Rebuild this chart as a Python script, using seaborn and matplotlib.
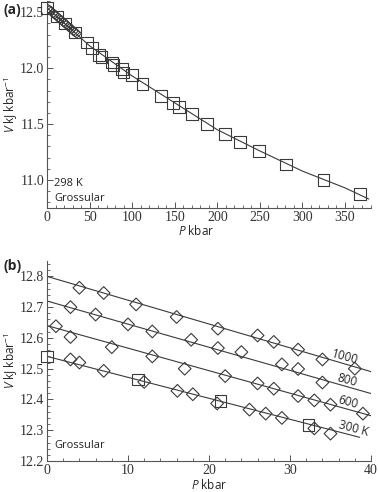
import matplotlib
matplotlib.use("Agg")
import matplotlib.pyplot as plt
import seaborn as sns
from matplotlib.ticker import MultipleLocator

# (a) 298 K compression data
sq_a_P = [0, 12, 21, 33, 47, 53, 61, 64, 76, 78, 88, 90, 100, 112, 134, 148, 155,
          170, 188, 209, 227, 249, 281, 325, 368]
sq_a_V = [12.54, 12.46, 12.40, 12.32, 12.23, 12.18, 12.12, 12.10, 12.05, 12.03, 11.99,
          11.96, 11.94, 11.86, 11.75, 11.69, 11.65, 11.59, 11.50, 11.41, 11.34, 11.26,
          11.14, 11.00, 10.875]
dm_a_P = [1, 3, 5, 7, 9, 11, 13, 15, 17, 19, 21, 23, 25, 27, 29, 31, 33, 35]
dm_a_V = [12.53, 12.52, 12.51, 12.49, 12.48, 12.47, 12.45, 12.44, 12.43, 12.41, 12.40,
          12.39, 12.37, 12.36, 12.35, 12.33, 12.32, 12.31]
fit_a_P = [0, 25, 50, 100, 150, 200, 250, 300, 350, 378]
fit_a_V = [12.54, 12.37, 12.20, 11.93, 11.69, 11.45, 11.26, 11.08, 10.93, 10.83]

# (b) high-T data, diamonds per isotherm
p1000 = [4, 7, 11, 16, 21.1, 26, 28, 31, 34, 38]
v1000 = [12.763, 12.746, 12.709, 12.668, 12.630, 12.608, 12.587, 12.562, 12.530, 12.500]
p800 = [2.9, 6, 10, 13, 17.8, 21.1, 24, 29, 31, 34]
v800 = [12.700, 12.676, 12.644, 12.621, 12.594, 12.567, 12.554, 12.514, 12.499, 12.455]
p600 = [1.1, 2.9, 8, 13, 17, 22, 26, 28, 31, 33, 35, 39]
v600 = [12.638, 12.603, 12.570, 12.540, 12.500, 12.476, 12.452, 12.435, 12.411,
        12.397, 12.383, 12.354]
p300 = [2.9, 4, 7, 12, 16.1, 18, 21, 25, 27, 29, 33, 35]
v300 = [12.530, 12.520, 12.493, 12.457, 12.428, 12.417, 12.387, 12.367, 12.354,
        12.340, 12.306, 12.289]
sq_b_P = [0, 11.2, 21.4, 32.3]
sq_b_V = [12.540, 12.465, 12.395, 12.318]

# model isotherms (end points)
iso_labels = ["1000", "800", "600", "300 K"]
iso_P = [[0, 40.7], [0, 40.7], [0, 40.7], [0, 38.6]]
iso_V = [[12.80, 12.485], [12.72, 12.414], [12.64, 12.342], [12.54, 12.277]]
lab_P = [36.8, 37.0, 37.2, 37.8]
lab_V = [12.536, 12.461, 12.392, 12.305]

sns.set_style("ticks")
plt.rcParams["font.family"] = ["Open Sans", "DejaVu Sans"]
plt.rcParams["mathtext.fontset"] = "custom"
plt.rcParams["mathtext.rm"] = "Open Sans"
plt.rcParams["mathtext.it"] = "Open Sans:italic"
plt.rcParams["xtick.direction"] = "in"
plt.rcParams["ytick.direction"] = "in"

ink = "#3a3a3a"
fig = plt.figure(figsize=(3.78, 4.92), dpi=100)
ax1 = fig.add_axes([47 / 378, 1 - 208 / 492, 323.5 / 378, 207 / 492])
ax2 = fig.add_axes([47 / 378, 1 - 461 / 492, 324 / 378, 200 / 492])

# panel a
sns.lineplot(x=fit_a_P, y=fit_a_V, ax=ax1, color=ink, lw=0.8, sort=False)
sns.scatterplot(x=dm_a_P, y=dm_a_V, ax=ax1, marker="D", s=22, facecolor="none",
                edgecolor=ink, linewidth=0.7, zorder=3)
sns.scatterplot(x=sq_a_P, y=sq_a_V, ax=ax1, marker="s", s=70, facecolor="none",
                edgecolor=ink, linewidth=0.8, zorder=3, clip_on=False)
ax1.set_xlim(0, 380)
ax1.set_ylim(10.75, 12.6)
ax1.xaxis.set_major_locator(MultipleLocator(50))
ax1.xaxis.set_minor_locator(MultipleLocator(10))
ax1.yaxis.set_major_locator(MultipleLocator(0.5))
ax1.yaxis.set_minor_locator(MultipleLocator(0.1))
ax1.yaxis.set_major_formatter(matplotlib.ticker.FormatStrFormatter("%.1f"))
ax1.text(0.022, 0.116, "298 K", transform=ax1.transAxes, fontsize=8, va="center", color="#222")
ax1.text(0.022, 0.048, "Grossular", transform=ax1.transAxes, fontsize=8, va="center", color="#222")
ax1.set_xlabel(r"$P$ kbar", fontsize=8.5)
ax1.xaxis.set_label_coords(0.46, -0.075)
ax1.set_ylabel(r"$V$ kJ kbar$^{-1}$", fontsize=8.5)
ax1.yaxis.set_label_coords(-0.082, 0.5)

# panel b
groups = [(p1000, v1000), (p800, v800), (p600, v600), (p300, v300)]
for i in range(4):
    sns.lineplot(x=iso_P[i], y=iso_V[i], ax=ax2, color=ink, lw=0.8)
    sns.scatterplot(x=groups[i][0], y=groups[i][1], ax=ax2, marker="D", s=42,
                    facecolor="none", edgecolor=ink, linewidth=0.8, zorder=3)
    ax2.text(lab_P[i], lab_V[i], iso_labels[i], fontsize=8.5, rotation=-15,
             ha="center", va="center", color="#222")
sns.scatterplot(x=sq_b_P, y=sq_b_V, ax=ax2, marker="s", s=70, facecolor="none",
                edgecolor=ink, linewidth=0.8, zorder=3, clip_on=False)
ax2.set_xlim(0, 40)
ax2.set_ylim(12.2, 12.85)
ax2.xaxis.set_major_locator(MultipleLocator(10))
ax2.xaxis.set_minor_locator(MultipleLocator(2))
ax2.yaxis.set_major_locator(MultipleLocator(0.1))
ax2.yaxis.set_minor_locator(MultipleLocator(0.02))
ax2.yaxis.set_major_formatter(matplotlib.ticker.FormatStrFormatter("%.1f"))
ax2.text(0.022, 0.08, "Grossular", transform=ax2.transAxes, fontsize=8, va="center", color="#222")
ax2.set_xlabel(r"$P$ kbar", fontsize=8.5)
ax2.xaxis.set_label_coords(0.5, -0.085)
ax2.set_ylabel(r"$V$ kJ kbar$^{-1}$", fontsize=8.5)
ax2.yaxis.set_label_coords(-0.082, 0.5)

for ax in (ax1, ax2):
    sns.despine(ax=ax)
    for sp in ("left", "bottom"):
        ax.spines[sp].set_color("#555")
        ax.spines[sp].set_linewidth(0.8)
    ax.tick_params(which="major", length=4, width=0.7, color="#555", pad=2)
    ax.tick_params(which="minor", length=2.5, width=0.6, color="#555")
    for t in ax.get_xticklabels() + ax.get_yticklabels():
        t.set_fontfamily("Liberation Serif")
        t.set_fontsize(10)
        t.set_color("#333")

fig.text(3 / 378, 1 - 10 / 492, "(a)", fontsize=10, fontweight="bold", va="center")
fig.text(3 / 378, 1 - 266 / 492, "(b)", fontsize=10, fontweight="bold", va="center")

fig.savefig("out.png", dpi=100)
